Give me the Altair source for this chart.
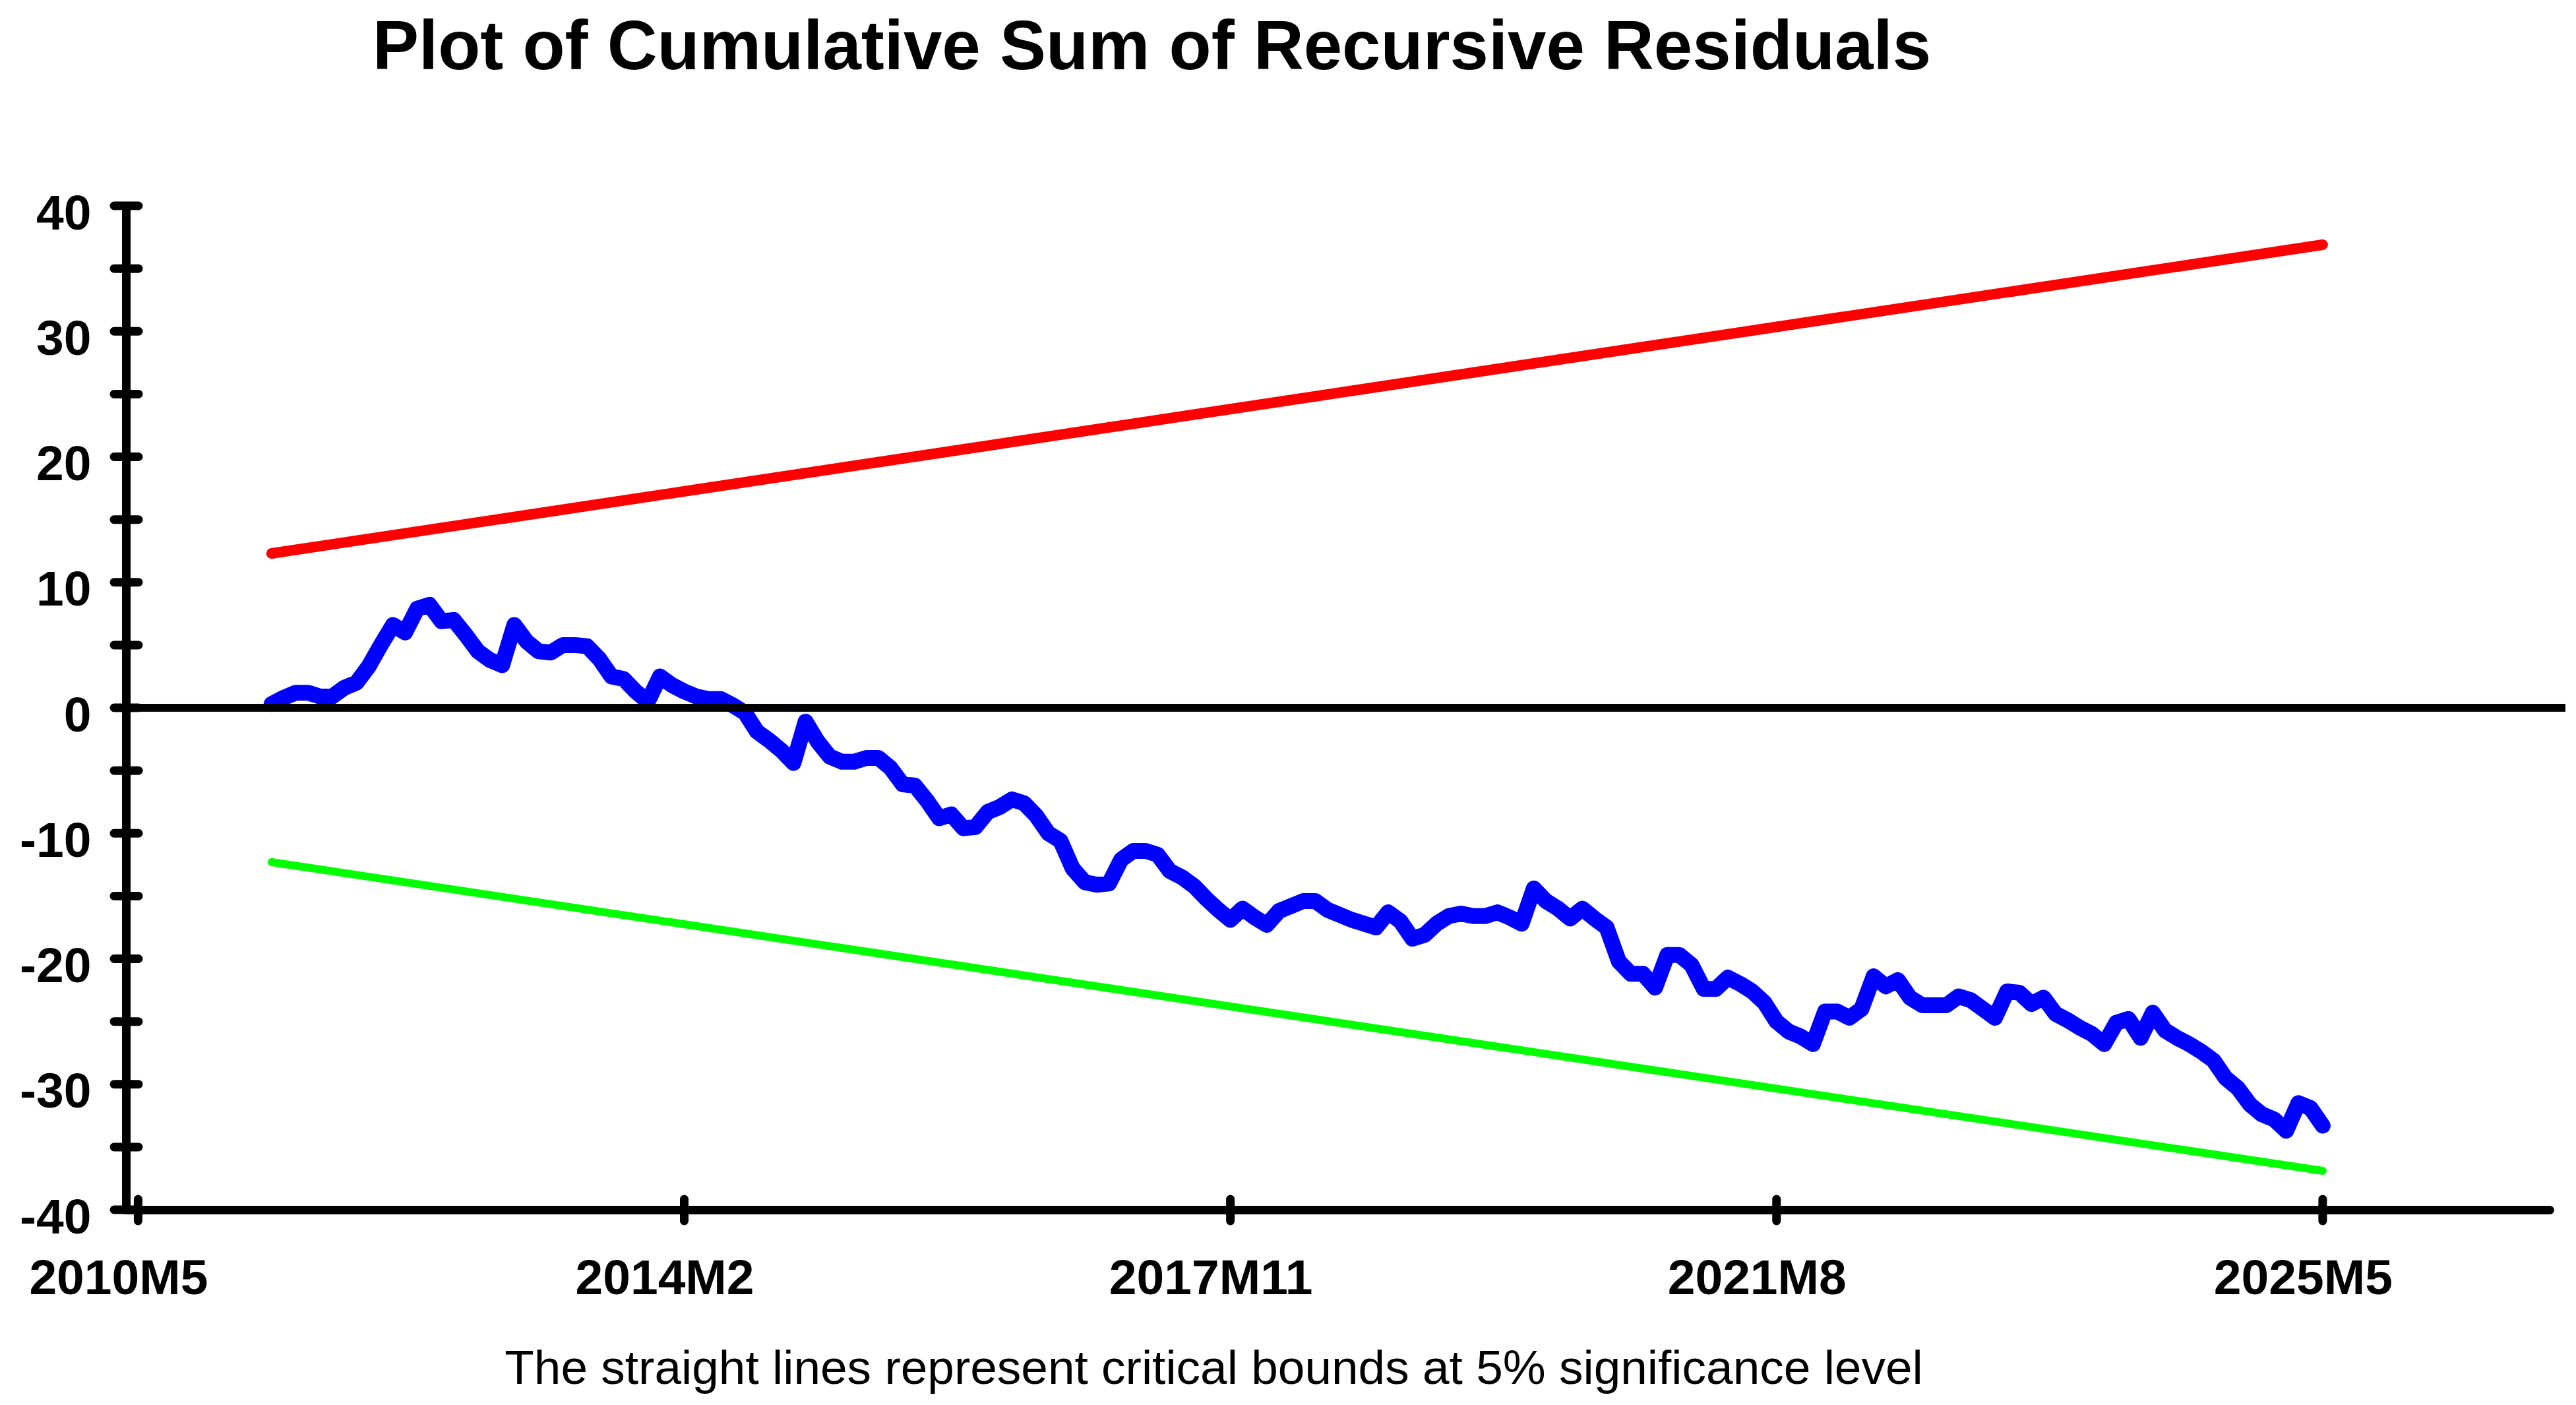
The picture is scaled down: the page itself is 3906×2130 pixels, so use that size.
import altair as alt
import pandas as pd

# ---- data ----
# month index: 0 = 2010M5, 1 = 2010M6, ...
months = list(range(11, 181))
cusum = [
    0.3, 0.8, 1.2, 1.2, 0.9, 0.9, 1.6, 2.0, 3.3, 5.0,
    6.6, 6.0, 7.9, 8.2, 6.9, 7.0, 5.8, 4.5, 3.8, 3.4,
    6.6, 5.3, 4.5, 4.4, 5.0, 5.0, 4.9, 3.9, 2.5, 2.3,
    1.3, 0.5, 2.5, 1.8, 1.3, 0.9, 0.7, 0.7, 0.2, -0.4,
    -1.9, -2.6, -3.4, -4.4, -1.1, -2.7, -3.9, -4.3, -4.3, -4.0,
    -4.0, -4.8, -6.1, -6.2, -7.4, -8.8, -8.5, -9.6, -9.5, -8.3,
    -7.9, -7.3, -7.6, -8.6, -10.0, -10.6, -12.8, -13.9, -14.1, -14.0,
    -12.1, -11.4, -11.4, -11.7, -13.0, -13.5, -14.2, -15.2, -16.1, -16.9,
    -16.0, -16.7, -17.3, -16.2, -15.8, -15.4, -15.4, -16.1, -16.5, -16.9,
    -17.2, -17.5, -16.3, -17.0, -18.4, -18.1, -17.2, -16.6, -16.4, -16.6,
    -16.6, -16.3, -16.7, -17.2, -14.4, -15.4, -16.0, -16.8, -16.0, -16.8,
    -17.5, -20.2, -21.2, -21.2, -22.3, -19.7, -19.7, -20.5, -22.4, -22.4,
    -21.5, -22.0, -22.6, -23.5, -25.0, -25.8, -26.2, -26.8, -24.2, -24.2,
    -24.7, -24.0, -21.4, -22.2, -21.7, -23.1, -23.7, -23.7, -23.7, -23.0,
    -23.3, -24.0, -24.7, -22.6, -22.7, -23.6, -23.1, -24.4, -24.9, -25.5,
    -26.0, -26.8, -25.1, -24.8, -26.3, -24.3, -25.7, -26.3, -26.8, -27.4,
    -28.1, -29.5, -30.3, -31.6, -32.4, -32.8, -33.7, -31.5, -31.9, -33.3,
]
bound_months = [11, 180]
upper_bound = [12.3, 36.9]
lower_bound = [-12.3, -36.9]

x_tick_months = [0, 45, 90, 135, 180]
x_tick_labels = ["2010M5", "2014M2", "2017M11", "2021M8", "2025M5"]
y_label_values = [-40, -30, -20, -10, 0, 10, 20, 30, 40]
y_tick_values = [-40, -35, -30, -25, -20, -15, -10, -5, 0, 5, 10, 15, 20, 25, 30, 35, 40]
zero_line_x = [-1, 200]

TITLE = "Plot of Cumulative Sum of Recursive Residuals"
SUBTITLE = "The straight lines represent critical bounds at 5% significance level"

W, H = 3675, 1522
FONT = "Liberation Sans"

cusum_df = pd.DataFrame({"m": months, "v": cusum})
upper_df = pd.DataFrame({"m": bound_months, "v": upper_bound})
lower_df = pd.DataFrame({"m": bound_months, "v": lower_bound})
xt_df = pd.DataFrame({"m": x_tick_months})
yt_df = pd.DataFrame({"v": y_tick_values})
zero_df = pd.DataFrame({"m": [zero_line_x[0]], "m2": [zero_line_x[1]], "v": [0]})

label_map = "{" + ",".join(f"'{m}':'{l}'" for m, l in zip(x_tick_months, x_tick_labels)) + "}"

x_scale = alt.Scale(domain=[-1, 198.7], nice=False, zero=False)
y_scale = alt.Scale(domain=[-40, 40], nice=False, zero=False)

x_axis = alt.Axis(
    values=x_tick_months,
    labelExpr=f"{label_map}[toString(datum.value)]",
    ticks=False, tickSize=0, grid=False,
    domain=True, domainColor="black", domainWidth=13, domainCap="round",
    labelFont=FONT, labelFontSize=75, labelFontWeight="bold", labelColor="black",
    labelPadding=68, labelOffset=-30, labelFlush=False, labelOverlap=False, labelBound=False,
    labelLimit=0,
    title=SUBTITLE, titleFont=FONT, titleFontSize=73, titleFontWeight="normal",
    titleColor="black", titleX=1649, titleY=263, titleAlign="center",
    titleBaseline="alphabetic", titleAnchor="start", titleLimit=0,
)
y_axis = alt.Axis(
    values=y_label_values,
    labelExpr="'' + datum.value",
    ticks=False, tickSize=0, grid=False,
    domain=True, domainColor="black", domainWidth=13, domainCap="round",
    labelFont=FONT, labelFontSize=75, labelFontWeight="bold", labelColor="black",
    labelPadding=53, labelOffset=12, labelFlush=False, labelOverlap=False, labelBound=False,
    labelLimit=0,
    title=None,
)

base_x = alt.X("m:Q", scale=x_scale, axis=x_axis)
base_y = alt.Y("v:Q", scale=y_scale, axis=y_axis)

upper = alt.Chart(upper_df).mark_line(color="#FF0000", strokeWidth=16, strokeCap="round").encode(x=base_x, y=base_y)
lower = alt.Chart(lower_df).mark_line(color="#00FF00", strokeWidth=12, strokeCap="round").encode(x="m:Q", y="v:Q")
line = alt.Chart(cusum_df).mark_line(
    color="#0000FF", strokeWidth=24, strokeCap="round", strokeJoin="round"
).encode(x="m:Q", y="v:Q")
zero = alt.Chart(zero_df).mark_rule(color="black", strokeWidth=12, strokeCap="butt", clip=False).encode(
    x="m:Q", x2="m2:Q", y="v:Q"
)
yticks = alt.Chart(yt_df).mark_rule(color="black", strokeWidth=13, strokeCap="round").encode(
    y="v:Q", x=alt.value(-18), x2=alt.value(19)
)
xticks = alt.Chart(xt_df).mark_rule(color="black", strokeWidth=13, strokeCap="round").encode(
    x="m:Q", y=alt.value(H - 16), y2=alt.value(H + 17)
)

chart = (
    alt.layer(upper, lower, line, zero, yticks, xticks)
    .properties(
        width=W, height=H,
        autosize=alt.AutoSizeParams(type="none"),
        padding={"left": 183, "top": 304, "right": 26, "bottom": 280},
        title=alt.TitleParams(
            text=TITLE, anchor="start", frame="group", dx=374, offset=160,
            font=FONT, fontSize=105, fontWeight="bold", color="black",
        ),
    )
    .configure(background="white")
    .configure_view(stroke=None, strokeWidth=0)
)

chart.save("out.html", embed_options={"renderer": "svg", "actions": False})
